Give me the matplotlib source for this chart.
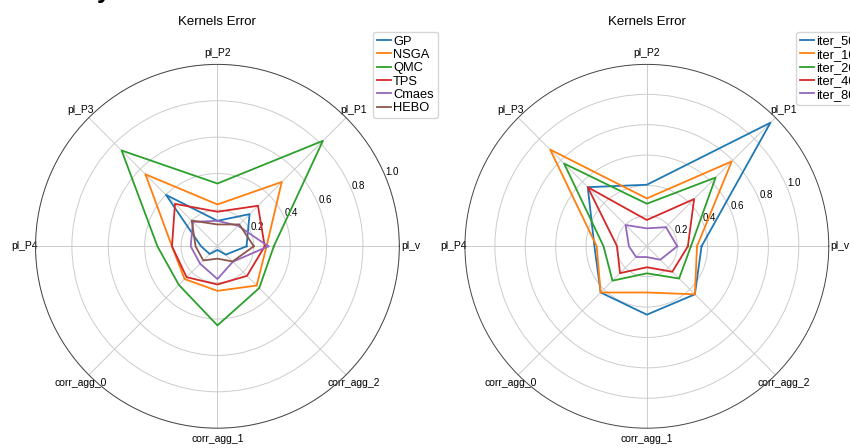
import numpy as np
import matplotlib
matplotlib.use('Agg')
import matplotlib.pyplot as plt

plt.rcParams['font.family'] = ['Liberation Sans', 'DejaVu Sans']

labels = ['pl_v', 'pl_P1', 'pl_P2', 'pl_P3', 'pl_P4', 'corr_agg_0', 'corr_agg_1', 'corr_agg_2']

# left chart: methods
methods = ['GP', 'NSGA', 'QMC', 'TPS', 'Cmaes', 'HEBO']
GP = [0.16, 0.25, 0.14, 0.40, 0.09, 0.06, 0.02, 0.065]
NSGA = [0.27, 0.50, 0.23, 0.56, 0.25, 0.255, 0.245, 0.305]
QMC = [0.31, 0.82, 0.345, 0.745, 0.33, 0.30, 0.435, 0.325]
TPS = [0.26, 0.315, 0.19, 0.33, 0.25, 0.24, 0.21, 0.23]
Cmaes = [0.28, 0.16, 0.14, 0.19, 0.147, 0.135, 0.18, 0.12]
HEBO = [0.20, 0.17, 0.12, 0.20, 0.12, 0.11, 0.068, 0.118]

# right chart: iterations
iters = ['iter_50', 'iter_100', 'iter_200', 'iter_400', 'iter_800']
iter_50 = [0.36, 1.15, 0.405, 0.55, 0.345, 0.43, 0.45, 0.447]
iter_100 = [0.33, 0.79, 0.315, 0.90, 0.33, 0.43, 0.304, 0.447]
iter_200 = [0.29, 0.64, 0.28, 0.77, 0.285, 0.32, 0.178, 0.30]
iter_400 = [0.27, 0.44, 0.173, 0.55, 0.196, 0.25, 0.138, 0.237]
iter_800 = [0.20, 0.178, 0.118, 0.198, 0.118, 0.10, 0.071, 0.125]

angles = np.linspace(0, 2 * np.pi, len(labels), endpoint=False)
angles_c = np.concatenate([angles, angles[:1]])


def radar(ax, names, series, rmax):
    for name, vals in zip(names, series):
        v = np.concatenate([vals, vals[:1]])
        ax.plot(angles_c, v, lw=1.3, label=name)
    ax.set_thetagrids(np.degrees(angles), labels, fontsize=7.5)
    ax.set_ylim(0, rmax)
    ax.set_yticks([0.2, 0.4, 0.6, 0.8, 1.0])
    ax.set_yticklabels(['0.2', '0.4', '0.6', '0.8', '1.0'], fontsize=7)
    ax.tick_params(axis='x', pad=-2.5)
    ax.grid(color='#cccccc', lw=0.7)
    ax.spines['polar'].set_color('#444444')
    ax.spines['polar'].set_linewidth(0.7)
    ax.set_title('Kernels Error', fontsize=9.5, y=1.085)
    ax.legend(loc='upper right', bbox_to_anchor=(1.105, 1.09), fontsize=9.3,
              handlelength=1.1, handletextpad=0.15, labelspacing=0.1,
              borderpad=0.3, borderaxespad=0.0, fancybox=True)


fig = plt.figure(figsize=(8.5, 4.48), dpi=100)
ax1 = fig.add_axes([0.0418, 0.044, 0.428, 0.8125], polar=True)
ax2 = fig.add_axes([0.547, 0.044, 0.428, 0.8125], polar=True)

radar(ax1, methods, [GP, NSGA, QMC, TPS, Cmaes, HEBO], 1.0)
radar(ax2, iters, [iter_50, iter_100, iter_200, iter_400, iter_800], 1.197)

# cut-off heading at the top edge
fig.text(0.114, 1.005, 'y', fontsize=18, fontweight='bold', va='baseline')

plt.savefig('out.png', dpi=100)
